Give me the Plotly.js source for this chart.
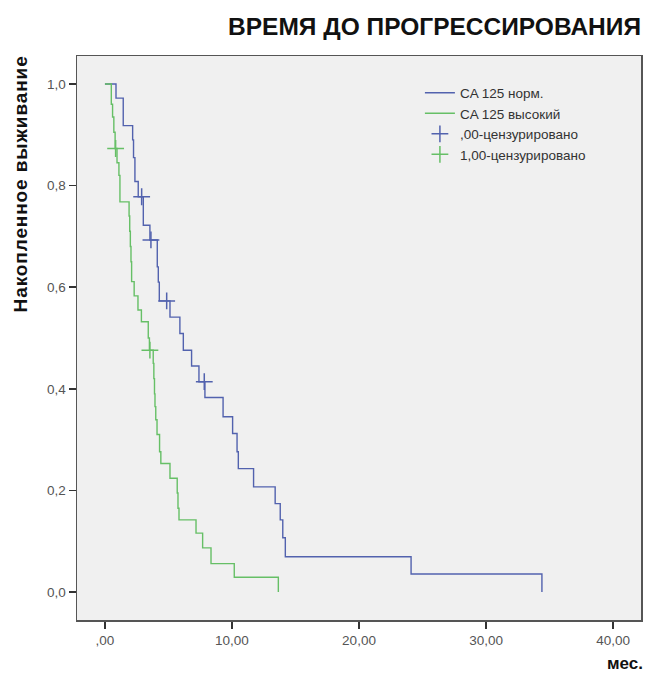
<!DOCTYPE html>
<html>
<head>
<meta charset="utf-8">
<script src="https://cdn.plot.ly/plotly-3.0.1.min.js"></script>
<style>html,body{margin:0;padding:0;background:#fff;}#chart{width:652px;height:673px;}</style>
</head>
<body>
<div id="chart"></div>
<script>
// Kaplan-Meier step data
const blueName = "CA 125 норм.";
const blueT = [0, 0.87, 1.44, 2.18, 2.25, 2.36, 2.62, 3.02, 3.54, 4.12, 4.2, 4.28, 5.12, 5.9, 6.17, 6.82, 7.4, 7.87, 9.3, 10.05, 10.4, 10.5, 11.7, 13.4, 13.8, 14.0, 14.2, 24.1, 34.4];
const blueS = [1.0, 0.972, 0.918, 0.890, 0.855, 0.808, 0.778, 0.722, 0.693, 0.64, 0.61, 0.573, 0.541, 0.509, 0.476, 0.445, 0.414, 0.383, 0.345, 0.312, 0.276, 0.243, 0.207, 0.174, 0.142, 0.107, 0.0695, 0.0354, 0.0];

const greenName = "CA 125 высокий";
const greenT = [0, 0.5, 0.6, 0.7, 0.8, 0.95, 1.1, 1.18, 1.9, 1.95, 2.0, 2.05, 2.1, 2.3, 2.6, 2.87, 3.41, 3.5, 3.8, 3.85, 3.9, 3.94, 4.0, 4.1, 4.3, 4.4, 5.12, 5.69, 5.75, 5.83, 7.17, 7.69, 8.35, 10.18, 13.65];
const greenS = [1.0, 0.96, 0.935, 0.905, 0.873, 0.845, 0.82, 0.768, 0.74, 0.71, 0.68, 0.65, 0.611, 0.583, 0.555, 0.532, 0.50, 0.476, 0.45, 0.42, 0.39, 0.365, 0.339, 0.31, 0.276, 0.253, 0.224, 0.195, 0.165, 0.142, 0.116, 0.087, 0.056, 0.029, 0.0];

const blueCensName = ",00-цензурировано";
const blueCensT = [2.89, 3.62, 4.86, 7.82];
const blueCensS = [0.778, 0.693, 0.573, 0.414];

const greenCensName = "1,00-цензурировано";
const greenCensT = [0.84, 3.54];
const greenCensS = [0.873, 0.476];

const xTickVals = [0, 10, 20, 30, 40];
const xTickText = [",00", "10,00", "20,00", "30,00", "40,00"];
const yTickVals = [0, 0.2, 0.4, 0.6, 0.8, 1.0];
const yTickText = ["0,0", "0,2", "0,4", "0,6", "0,8", "1,0"];

const titleText = "ВРЕМЯ ДО ПРОГРЕССИРОВАНИЯ";
const yTitleText = "Накопленное выживание";
const xTitleText = "мес.";

const BLUE = "#5262ae";
const GREEN = "#66bf66";
const FONT = "Liberation Sans, Arial, sans-serif";

const traces = [
  {x: blueT, y: blueS, name: blueName, type: "scatter", mode: "lines",
   line: {shape: "hv", color: BLUE, width: 1.4}},
  {x: greenT, y: greenS, name: greenName, type: "scatter", mode: "lines",
   line: {shape: "hv", color: GREEN, width: 1.4}},
  {x: blueCensT, y: blueCensS, name: blueCensName, type: "scatter", mode: "markers",
   marker: {symbol: "cross-thin", size: 12, color: BLUE, line: {color: BLUE, width: 1.5}}},
  {x: greenCensT, y: greenCensS, name: greenCensName, type: "scatter", mode: "markers",
   marker: {symbol: "cross-thin", size: 12, color: GREEN, line: {color: GREEN, width: 1.5}}}
];

const layout = {
  width: 652, height: 673,
  margin: {l: 77, r: 11, t: 56, b: 53, pad: 0},
  paper_bgcolor: "#ffffff",
  plot_bgcolor: "#f0f0f0",
  font: {family: FONT, size: 12, color: "#444"},
  showlegend: true,
  legend: {x: 0.608, y: 0.962, xanchor: "left", yanchor: "top", bgcolor: "rgba(0,0,0,0)",
           font: {size: 13.5, color: "#333"}, tracegroupgap: 0, itemwidth: 30},
  title: {text: "<b>" + titleText + "</b>", x: 641/652, xanchor: "right", xref: "container",
          y: 1 - 26/673, yanchor: "middle", yref: "container",
          font: {family: FONT, size: 24.5, color: "#111"}},
  xaxis: {range: [-2.2, 42.2], tickvals: xTickVals, ticktext: xTickText,
          showgrid: false, zeroline: false, showline: true, mirror: true,
          linecolor: "#555", linewidth: 1.5, ticks: "outside", ticklen: 7, tickwidth: 1.5,
          tickcolor: "#333", tickfont: {size: 13.5, color: "#555"}, fixedrange: true},
  yaxis: {range: [-0.055, 1.055], tickvals: yTickVals, ticktext: yTickText,
          showgrid: false, zeroline: false, showline: true, mirror: true,
          linecolor: "#555", linewidth: 1.5, ticks: "outside", ticklen: 7, tickwidth: 1.5,
          tickcolor: "#333", tickfont: {size: 13.5, color: "#555"}, fixedrange: true},
  annotations: [
    {text: "<b>" + yTitleText + "</b>", textangle: -90, xref: "paper", yref: "paper",
     x: (20 - 77) / 564, y: (620 - 184) / 564, xanchor: "center", yanchor: "middle",
     showarrow: false, font: {size: 19, color: "#111"}},
    {text: "<b>" + xTitleText + "</b>", xref: "paper", yref: "paper",
     x: (645 - 77) / 564, y: (620 - 663) / 564, xanchor: "right", yanchor: "middle",
     showarrow: false, font: {size: 17, color: "#111"}}
  ]
};

Plotly.newPlot("chart", traces, layout, {displayModeBar: false, staticPlot: true}).then(function () {
  const ann = document.querySelectorAll("#chart .annotation-text");
  if (ann.length) ann[0].style.letterSpacing = "0.9px";
});
</script>
</body>
</html>
